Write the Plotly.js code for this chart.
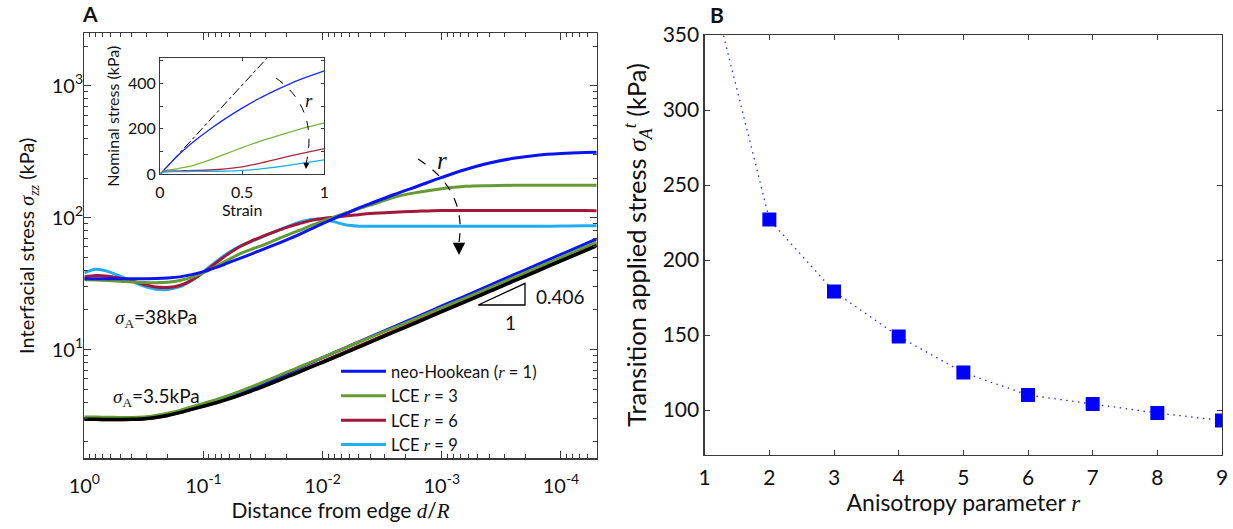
<!DOCTYPE html>
<html><head><meta charset="utf-8">
<script src="https://cdn.plot.ly/plotly-3.0.1.min.js"></script>
<style>html,body{margin:0;padding:0;background:#fff}#chart{width:1233px;height:529px}</style>
</head><body><div id="chart"></div>
<script>
// ---------- Panel A: interfacial stress vs distance from edge d/R ----------
const D = [1,0.794,0.631,0.501,0.398,0.316,0.251,0.2,0.158,0.126,0.1,0.0794,0.0631,0.0501,0.0398,0.0316,0.0251,0.02,0.0158,0.0126,0.01,0.00794,0.00631,0.00501,0.00398,0.00251,0.00158,0.001,6.31e-4,3.98e-4,2.51e-4,1.58e-4,1e-4,6.31e-5,5.01e-5];
// applied stress 38 kPa
const UP_NH = [34.5,34.5,34.4,34.4,34.4,34.5,34.6,34.9,35.6,37.0,39.0,41.8,45.2,49.0,53.0,57.5,62.5,68.0,74.5,82,90,99,108,118,128,150,174,202,232,260,282,298,307,312,313];
const UP_R3 = [33.9,33.7,33.4,33.0,32.5,32.2,32.1,32.4,33.4,35.3,38.3,42.5,47.5,53,57.5,62,67.5,73.5,80,87,94,101.5,109,117,124.5,143,156,166,173,175,176,176,176,176,176];
const UP_R6 = [35.6,36.4,36.0,34.8,33.2,31.2,29.8,29.6,30.6,33.5,38.5,45,52.5,60,66.5,72.5,78.5,84.5,90,95,98.5,101,103.5,105.5,107.5,110,112,113.5,113.5,113.5,113.5,113.5,113.5,113.5,113];
const UP_R9 = [38.1,40.6,39.0,36.0,33.0,30.3,28.7,28.6,30.0,33.5,39.0,46,53.5,60.5,66,72,78.5,85,92,97,97.5,93,88,86.3,86,86,86,86,86,86,86,86,86.5,87,87];
// applied stress 3.5 kPa
const LO_NH = [3.0,2.99,2.98,2.98,2.99,3.02,3.10,3.22,3.39,3.59,3.80,4.05,4.34,4.68,5.08,5.53,6.04,6.62,7.24,7.94,8.68,9.51,10.41,11.41,12.48,14.93,17.88,21.44,25.59,30.69,36.8,44.05,52.69,63.06,68.96];
const LO_R3 = [3.09,3.08,3.07,3.06,3.06,3.09,3.17,3.29,3.46,3.68,3.91,4.16,4.46,4.81,5.21,5.67,6.18,6.74,7.35,8.01,8.72,9.52,10.39,11.35,12.37,14.69,17.49,20.8,24.67,29.42,35.15,41.96,50.06,59.75,65.28];
const LO_R6 = [2.96,2.95,2.94,2.94,2.95,2.98,3.05,3.17,3.34,3.53,3.74,3.97,4.23,4.55,4.9,5.31,5.77,6.28,6.85,7.46,8.12,8.88,9.7,10.62,11.59,13.85,16.56,19.79,23.57,28.2,33.76,40.31,48.13,57.5,62.83];
const LO_R9 = [2.99,2.98,2.97,2.97,2.98,3.01,3.08,3.2,3.36,3.55,3.75,3.97,4.24,4.54,4.89,5.3,5.75,6.26,6.82,7.43,8.08,8.83,9.65,10.55,11.52,13.74,16.42,19.6,23.33,27.9,33.36,39.83,47.52,56.72,61.97];
const LO_REF = [2.97,2.96,2.95,2.95,2.96,2.99,3.06,3.17,3.33,3.52,3.72,3.94,4.2,4.5,4.85,5.25,5.7,6.2,6.75,7.35,8.0,8.74,9.55,10.44,11.4,13.6,16.25,19.4,23.1,27.6,33.0,39.4,47.0,56.1,61.3];
const X_TICKS = [1,0.1,0.01,0.001,1e-4];
const X_TICKTEXT = ['10<sup>0</sup>','10<sup>-1</sup>','10<sup>-2</sup>','10<sup>-3</sup>','10<sup>-4</sup>'];
const Y_TICKS = [10,100,1000];
const Y_TICKTEXT = ['10<sup>1</sup>','10<sup>2</sup>','10<sup>3</sup>'];

// ---------- Inset: nominal stress vs strain ----------
const STRAIN = [0,0.02,0.05,0.1,0.15,0.2,0.3,0.4,0.5,0.6,0.7,0.8,0.9,1.0];
const IN_NH = [0,16,39,76,110,141,196,246,291,332,368,401,429,455];
const IN_R3 = [0,14,19,24,30,38,62,90,117,143,166,188,208,226];
const IN_R6 = [0,12,14,15,16,17,19,24,33,47,64,82,98,113];
const IN_R9 = [0,10,11,12,12,12.5,13,14,17,23,31,41,52,63];
const LIN_X = [0,0.7];
const LIN_Y = [0,549];

// ---------- Panel B: transition applied stress vs anisotropy r ----------
const R = [1,2,3,4,5,6,7,8,9];
const SIGMA_T = [400,227,179,149,125,110,104,98,93];

const W = 1233, H = 529;
const C = {nh:'#0a14f0', r3:'#659a35', r6:'#a3173a', r9:'#22acf2', ref:'#000000'};
const CI = {nh:'#1a2af5', r3:'#7cb342', r6:'#a8283f', r9:'#1eb0f5'};
const M = s => `<span style="font-family:'Liberation Serif';font-style:italic">${s}</span>`;
const S = s => `<span style="font-family:'Liberation Serif'">${s}</span>`;
const px = (x) => x / W;
const py = (y) => 1 - y / H;
const P = (x, y) => `${px(x).toFixed(5)},${py(y).toFixed(5)}`;

function minorLog(lo, hi) {
  const v = [];
  for (let e = lo; e <= hi; e++) for (let k = 2; k <= 9; k++) v.push(k * Math.pow(10, e));
  return v;
}

const traces = [];
function mainLine(y, color, width, name, show, rank) {
  traces.push({x: D, y: y, type: 'scatter', mode: 'lines', xaxis: 'x', yaxis: 'y',
    line: {color: color, width: width, shape: 'spline', smoothing: 1},
    name: name, showlegend: show, legendrank: rank, hoverinfo: 'skip'});
}
mainLine(UP_R9, C.r9, 3, '', false);
mainLine(UP_R6, C.r6, 3, '', false);
mainLine(UP_R3, C.r3, 3, '', false);
mainLine(UP_NH, C.nh, 3, '', false);
mainLine(LO_R9, C.r9, 3, 'LCE ' + M('r') + ' = 9', true, 4);
mainLine(LO_R6, C.r6, 3, 'LCE ' + M('r') + ' = 6', true, 3);
mainLine(LO_NH, C.nh, 3, 'neo-Hookean (' + M('r') + ' = 1)', true, 1);
mainLine(LO_R3, C.r3, 3, 'LCE ' + M('r') + ' = 3', true, 2);
mainLine(LO_REF, C.ref, 3.5, '', false);

function insetLine(y, color) {
  traces.push({x: STRAIN, y: y, type: 'scatter', mode: 'lines', xaxis: 'x3', yaxis: 'y3',
    line: {color: color, width: 1.3, shape: 'spline', smoothing: 0.6}, showlegend: false, hoverinfo: 'skip'});
}
traces.push({x: LIN_X, y: LIN_Y, type: 'scatter', mode: 'lines', xaxis: 'x3', yaxis: 'y3',
  line: {color: '#000', width: 1, dash: 'dashdot'}, showlegend: false, hoverinfo: 'skip'});
insetLine(IN_NH, CI.nh); insetLine(IN_R3, CI.r3); insetLine(IN_R6, CI.r6); insetLine(IN_R9, CI.r9);

traces.push({x: R, y: SIGMA_T, type: 'scatter', mode: 'lines+markers', xaxis: 'x2', yaxis: 'y2',
  line: {color: '#2a2aff', width: 1.3, dash: '1.5px,4.5px'},
  marker: {symbol: 'square', size: 14, color: '#0000ff'}, showlegend: false, cliponaxis: true, hoverinfo: 'skip'});

const axBase = {showline: true, linecolor: '#3a3a3a', linewidth: 1.3, mirror: 'ticks', ticks: 'inside',
  tickcolor: '#3a3a3a', tickwidth: 1, showgrid: false, zeroline: false, automargin: false};

function note(text, x, y, size, extra) {
  return Object.assign({text: text, xref: 'paper', yref: 'paper', x: px(x), y: py(y),
    xanchor: 'center', yanchor: 'middle', showarrow: false, font: {size: size}}, extra || {});
}
function head(x, y, ax, ay, size, width) {
  return {text: '', xref: 'paper', yref: 'paper', x: px(x), y: py(y), ax: ax, ay: ay, showarrow: true,
    arrowhead: 2, arrowsize: size, arrowwidth: width, arrowcolor: '#000'};
}

const layout = {
  width: W, height: H, margin: {l: 0, r: 0, t: 0, b: 0},
  paper_bgcolor: '#fff', plot_bgcolor: '#fff',
  font: {family: 'Lato, "Noto Sans", sans-serif', size: 20, color: '#111'},
  showlegend: true,
  legend: {x: px(336), y: py(354), xanchor: 'left', yanchor: 'top', bgcolor: 'rgba(0,0,0,0)',
    font: {size: 16.5}, tracegroupgap: 0, traceorder: 'normal', itemwidth: 45},
  xaxis: Object.assign({}, axBase, {type: 'log', range: [0, -4.3], domain: [px(84.3), px(596.7)], anchor: 'y',
    tickmode: 'array', tickvals: X_TICKS, ticktext: X_TICKTEXT, ticklen: 7, ticklabelstandoff: 9,
    minor: {tickmode: 'array', tickvals: minorLog(-5, -1), ticks: 'inside', ticklen: 4, tickcolor: '#3a3a3a'},
    title: {text: 'Distance from edge ' + M('d') + '/' + M('R'), font: {size: 21}, standoff: 4}}),
  yaxis: Object.assign({}, axBase, {type: 'log', range: [Math.log10(1.5), Math.log10(2500)], domain: [py(458.3), py(33.3)], anchor: 'x',
    tickmode: 'array', tickvals: Y_TICKS, ticktext: Y_TICKTEXT, ticklen: 7, ticklabelstandoff: -4,
    minor: {tickmode: 'array', tickvals: minorLog(0, 3), ticks: 'inside', ticklen: 4, tickcolor: '#3a3a3a'},
    title: {text: 'Interfacial stress ' + M('σ') + '<sub>' + M('zz') + '</sub> (kPa)', font: {size: 20}, standoff: 11}}),
  xaxis2: Object.assign({}, axBase, {range: [1, 9], domain: [px(704.7), px(1222)], anchor: 'y2',
    tickmode: 'array', tickvals: [1,2,3,4,5,6,7,8,9], ticklen: 5, ticklabelstandoff: 3,
    tickfont: {size: 21},
    title: {text: 'Anisotropy parameter ' + M('r'), font: {size: 23}, standoff: 0}}),
  yaxis2: Object.assign({}, axBase, {range: [70, 350], domain: [py(455), py(35)], anchor: 'x2',
    tickmode: 'array', tickvals: [100,150,200,250,300,350], ticklen: 5,
    tickfont: {size: 21},
    title: {text: 'Transition applied stress ' + M('σ') + '<sub>' + M('A') + '</sub><sup>' + M('t') + '</sup> (kPa)', font: {size: 25.5}, standoff: 8}}),
  xaxis3: Object.assign({}, axBase, {range: [0, 1], domain: [px(160), px(324.3)], anchor: 'y3',
    tickmode: 'array', tickvals: [0, 0.5, 1], ticktext: ['0','0.5','1'], ticklen: 3, linewidth: 1,
    tickfont: {size: 16}, ticklabelstandoff: 3,
    title: {text: 'Strain', font: {size: 16}, standoff: 0}}),
  yaxis3: Object.assign({}, axBase, {range: [0, 510], domain: [py(174.3), py(58.3)], anchor: 'x3',
    tickmode: 'array', tickvals: [0, 200, 400], ticklen: 3, linewidth: 1,
    minor: {tickmode: 'array', tickvals: [100, 300, 500], ticks: 'inside', ticklen: 3, tickcolor: '#3a3a3a'},
    tickfont: {size: 16},
    title: {text: 'Nominal stress (kPa)', font: {size: 16}, standoff: 4}}),
  shapes: [
    {type: 'path', xref: 'paper', yref: 'paper', path: `M${P(478.3,305)}L${P(525,305)}L${P(525,283.3)}Z`,
      line: {color: '#000', width: 1.3}, fillcolor: 'rgba(0,0,0,0)'},
    {type: 'path', xref: 'paper', yref: 'paper', path: `M${P(418,159)}Q${P(467,190)},${P(459,242)}`,
      line: {color: '#000', width: 1.2, dash: 'dash'}},
    {type: 'path', xref: 'paper', yref: 'paper', path: `M${P(276,78)}Q${P(318,108)},${P(306.5,162)}`,
      line: {color: '#000', width: 1, dash: 'dash'}}
  ],
  annotations: [
    note('<b>A</b>', 89.5, 13, 21),
    note('<b>B</b>', 717, 14, 21),
    note(M('σ') + '<sub>' + S('A') + '</sub>=38kPa', 156, 318, 19),
    note(M('σ') + '<sub>' + S('A') + '</sub>=3.5kPa', 156, 397, 19),
    note('0.406', 560, 296.5, 19),
    note('1', 510, 323, 19),
    note(M('r'), 442, 160, 25),
    note(M('r'), 309, 100, 19),
    head(459, 255, 0, -13, 1.9, 1.3),
    head(306, 169, 0.5, -9, 1.2, 1)
  ]
};

Plotly.newPlot('chart', traces, layout, {staticPlot: true, displayModeBar: false});
</script></body></html>
